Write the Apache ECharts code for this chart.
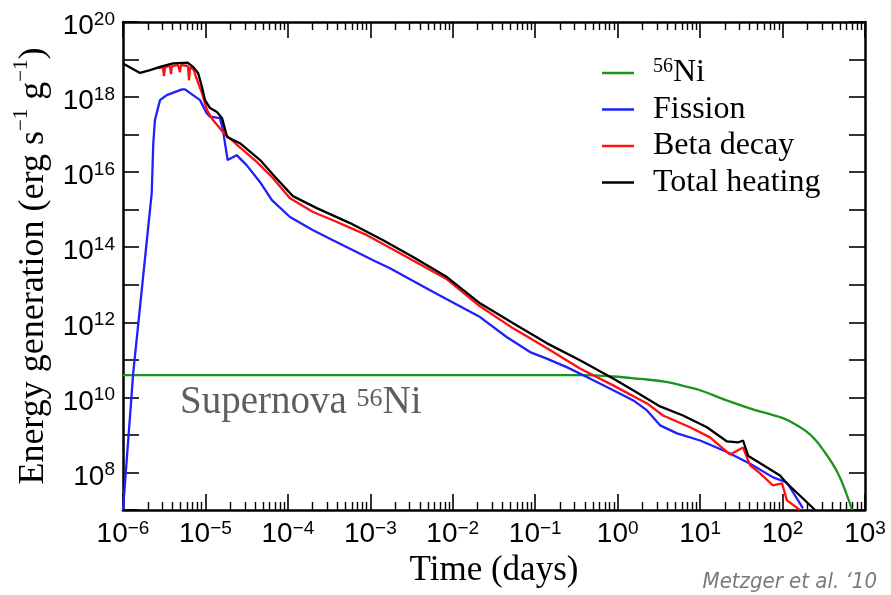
<!DOCTYPE html>
<html>
<head>
<meta charset="utf-8">
<script src="https://cdn.jsdelivr.net/npm/echarts@6/dist/echarts.min.js"></script>
<style>
html,body{margin:0;padding:0;background:#fff;}
#chart{width:891px;height:595px;}
</style>
</head>
<body>
<div id="chart"></div>
<script>
// ---- Data (time in days, energy in erg s^-1 g^-1) ----
const niTime   = [1e-6, 0.35, 0.9, 1.87, 4, 6.56, 10, 21, 40, 64.9, 93, 123, 215, 327, 471, 605, 697];
const niEnergy = [3.9e10, 3.9e10, 3.6e10, 3.1e10, 2.56e10, 1.96e10, 1.55e10, 8.3e9, 5.1e9, 3.74e9, 3.0e9, 2.3e9, 1.03e9, 3.4e8, 9.4e7, 2.44e7, 1e7];

const fissionTime   = [1e-6, 1.33e-6, 2.23e-6, 2.33e-6, 2.44e-6, 2.56e-6, 2.81e-6, 3.39e-6, 5.2e-6, 5.65e-6, 8.6e-6, 1.035e-5, 1.136e-5, 1.5e-5, 1.63e-5, 1.86e-5, 2.39e-5, 3.16e-5, 4.6e-5, 6.4e-5, 1.06e-4, 2.02e-4, 3.52e-4, 6.17e-4, 1.08e-3, 1.73e-3, 5.3e-3, 2.14e-2, 4.5e-2, 8.65e-2, 0.138, 0.241, 0.422, 0.885, 1.55, 2.27, 3.27, 5.25, 10, 21.2, 40.4, 76.7, 113, 177];
const fissionEnergy = [1e7, 4.4e10, 2.75e15, 5.9e16, 2.44e17, 3.7e17, 8.3e17, 1.13e18, 1.6e18, 1.6e18, 8.3e17, 3.7e17, 3.0e17, 2.75e17, 1.32e17, 2.1e16, 2.84e16, 1.54e16, 5.4e15, 1.8e15, 6.4e14, 2.84e14, 1.54e14, 8.3e13, 4.5e13, 2.75e13, 7.1e12, 1.38e12, 4.06e11, 1.61e11, 1.08e11, 6.4e10, 3.5e10, 1.54e10, 8.3e9, 4.5e9, 1.8e9, 1.1e9, 7.1e8, 3.5e8, 1.7e8, 7.4e7, 5.4e7, 1.1e7];

const betaTime   = [2.66e-6, 3.05e-6, 3.14e-6, 3.23e-6, 3.72e-6, 3.82e-6, 3.92e-6, 4.65e-6, 4.91e-6, 5.05e-6, 6.14e-6, 6.32e-6, 6.5e-6, 7.26e-6, 7.68e-6, 9.08e-6, 1.045e-5, 1.235e-5, 1.63e-5, 2.62e-5, 4.22e-5, 6.6e-5, 1.06e-4, 2.02e-4, 3.52e-4, 9.1e-4, 2.29e-3, 8.5e-3, 2.14e-2, 5.4e-2, 0.139, 0.349, 0.88, 2.27, 3.55, 7.55, 13.2, 23.1, 33.2, 40.4, 53.3, 76.7, 98.6, 113, 163];
const betaEnergy = [5.9e18, 6.3e18, 3.6e18, 6.3e18, 6.7e18, 4.1e18, 6.7e18, 7.1e18, 4.6e18, 7.1e18, 6.7e18, 2.8e18, 6.3e18, 5.2e18, 3.4e18, 1.28e18, 4.5e17, 2.44e17, 1.17e17, 4.6e16, 1.85e16, 6.9e15, 2.03e15, 8.7e14, 5.25e14, 2.1e14, 6.9e13, 1.4e13, 2.67e12, 6.9e11, 2.03e11, 5.9e10, 2.09e10, 6.9e9, 3.3e9, 1.6e9, 8.6e8, 3.0e8, 4.6e8, 1.54e8, 9.4e7, 4.5e7, 5.1e7, 1.8e7, 1e7];

const totalTime   = [1e-6, 1.61e-6, 2.13e-6, 2.81e-6, 4.04e-6, 6.14e-6, 7.06e-6, 8.13e-6, 9.08e-6, 9.88e-6, 1.136e-5, 1.38e-5, 1.59e-5, 1.83e-5, 2.62e-5, 4.6e-5, 7.0e-5, 1.15e-4, 2.24e-4, 5.67e-4, 1.43e-3, 3.3e-3, 8.5e-3, 2.14e-2, 5.4e-2, 0.139, 0.349, 0.88, 1.54, 3.27, 6.2, 12.1, 21.2, 28.8, 33.2, 38.1, 64.9, 93.1, 113, 163, 248];
const totalEnergy = [7.9e18, 4.4e18, 5.25e18, 6.4e18, 7.9e18, 8.2e18, 6.4e18, 4.4e18, 1.85e18, 8.3e17, 5.1e17, 4.0e17, 2.75e17, 8.6e16, 5.9e16, 2.1e16, 7.4e15, 2.3e15, 1.1e15, 4.4e14, 1.54e14, 5.5e13, 1.6e13, 3.2e12, 9.4e11, 2.75e11, 9.7e10, 3.2e10, 1.54e10, 5.75e9, 3.3e9, 1.6e9, 6.7e8, 6.3e8, 7.1e8, 2.8e8, 1.36e8, 8.3e7, 5.1e7, 2.4e7, 1e7];

// Tick labels (exponents of ten)
const xTickExponents = [-6, -5, -4, -3, -2, -1, 0, 1, 2, 3];
const yTickExponents = [8, 10, 12, 14, 16, 18, 20];
const seriesNames = ['56Ni', 'Fission', 'Beta decay', 'Total heating'];
const seriesColors = ['#1a941a', '#1f1fff', '#ff1010', '#000000'];
const seriesSmooth = [0.4, false, false, false];

// ---- build ----
function zip(a, b) { return a.map((v, i) => [v, b[i]]); }
function expText(v) { v = Math.round(v); return v < 0 ? '\u2212' + Math.abs(v) : String(v); }
const minorX = [];
for (let d = -6; d < 3; d++) for (let k = 2; k <= 9; k++) minorX.push(d + Math.log10(k));

const blk = '#000';
const axisLineStyle = { onZero: false, lineStyle: { color: blk, width: 2.5 } };
const majorTick = { inside: true, length: 16, lineStyle: { color: blk, width: 1.6 } };
const minorTickCfg = { inside: true, length: 8, customValues: minorX, lineStyle: { color: blk, width: 1.4 } };
const noSplit = { show: false };

const chart = echarts.init(document.getElementById('chart'), null, { renderer: 'canvas' });

const option = {
  animation: false,
  backgroundColor: '#fff',
  grid: { left: 123, right: 26, top: 22, bottom: 85, outerBoundsMode: 'none' },
  xAxis: [
    { type: 'log', logBase: 10, min: 1e-6, max: 1e3, show: false },
    { type: 'value', min: -6, max: 3, interval: 1, position: 'bottom',
      axisLine: axisLineStyle, axisTick: majorTick, splitLine: noSplit,
      axisLabel: { customValues: xTickExponents, margin: 9, showMinLabel: true, showMaxLabel: true,
        formatter: v => '{b|10}{s|' + expText(v) + '}',
        rich: {
          b: { fontFamily: 'Liberation Sans', fontSize: 28, lineHeight: 28, padding: [2, 0, 0, 0], color: blk },
          s: { fontFamily: 'Liberation Sans', fontSize: 19, lineHeight: 19, verticalAlign: 'top', color: blk }
        } },
      name: 'Time (days)', nameLocation: 'middle', nameGap: 39,
      nameTextStyle: { fontFamily: 'Liberation Serif', fontSize: 35, color: blk } },
    { type: 'value', min: -6, max: 3, position: 'bottom',
      axisLine: { show: false, onZero: false }, axisTick: minorTickCfg, axisLabel: { show: false }, splitLine: noSplit },
    { type: 'value', min: -6, max: 3, interval: 1, position: 'top',
      axisLine: axisLineStyle, axisTick: majorTick, axisLabel: { show: false }, splitLine: noSplit },
    { type: 'value', min: -6, max: 3, position: 'top',
      axisLine: { show: false, onZero: false }, axisTick: minorTickCfg, axisLabel: { show: false }, splitLine: noSplit }
  ],
  yAxis: [
    { type: 'log', logBase: 10, min: 1e7, max: 1e20, show: false },
    { type: 'value', min: 7, max: 20, interval: 1, position: 'left',
      axisLine: axisLineStyle, axisTick: majorTick, splitLine: noSplit,
      axisLabel: { customValues: yTickExponents, margin: 8, padding: [4, 0, 0, 0], showMinLabel: true, showMaxLabel: true,
        formatter: v => '{b|10}{s|' + expText(v) + '}',
        rich: {
          b: { fontFamily: 'Liberation Sans', fontSize: 28, lineHeight: 28, padding: [5, 0, 0, 0], color: blk },
          s: { fontFamily: 'Liberation Sans', fontSize: 19, lineHeight: 19, verticalAlign: 'top', color: blk }
        } },
      name: '{m|Energy generation (erg s}{p|\u22121}{m| g}{p|\u22121}{m|)}',
      nameLocation: 'middle', nameGap: 74, nameRotate: 90,
      nameTextStyle: { rich: {
        m: { fontFamily: 'Liberation Serif', fontSize: 36, lineHeight: 36, padding: [9, 0, 0, 0], color: blk },
        p: { fontFamily: 'Liberation Serif', fontSize: 21, lineHeight: 21, verticalAlign: 'top', color: blk }
      } } },
    { type: 'value', min: 7, max: 20, interval: 1, position: 'right',
      axisLine: axisLineStyle, axisTick: majorTick, axisLabel: { show: false }, splitLine: noSplit }
  ],
  legend: {
    orient: 'vertical', left: 602, top: 57, padding: 0, itemGap: 4.5,
    itemWidth: 32, itemHeight: 2.5, icon: 'rect',
    data: seriesNames,
    formatter: name => name === '56Ni' ? '{s|56}{n|Ni}' : '{n|' + name + '}',
    textStyle: { padding: [0, 0, 0, 14], rich: {
      n: { fontFamily: 'Liberation Serif', fontSize: 32, lineHeight: 32, color: blk },
      s: { fontFamily: 'Liberation Serif', fontSize: 20, lineHeight: 20, verticalAlign: 'top', color: blk }
    } }
  },
  series: [
    [niTime, niEnergy], [fissionTime, fissionEnergy], [betaTime, betaEnergy], [totalTime, totalEnergy]
  ].map((pair, i) => ({
    type: 'line', name: seriesNames[i], xAxisIndex: 0, yAxisIndex: 0,
    data: zip(pair[0], pair[1]), symbol: 'none', showSymbol: false,
    smooth: seriesSmooth[i],
    lineStyle: { color: seriesColors[i], width: 2.3 }, itemStyle: { color: seriesColors[i] },
    z: 2 + i
  })),
  graphic: [
    { type: 'text', x: 180, y: 383, silent: true,
      style: { text: '{a|Supernova }{b|56}{a|Ni}', verticalAlign: 'top',
        rich: {
          a: { fontFamily: 'Liberation Serif', fontSize: 39, lineHeight: 39, fill: '#5e5e5e', color: '#5e5e5e' },
          b: { fontFamily: 'Liberation Serif', fontSize: 26, lineHeight: 26, padding: [3, 0, 0, 0], verticalAlign: 'top', fill: '#5e5e5e', color: '#5e5e5e' }
        } } },
    { type: 'text', x: 877, y: 593, silent: true,
      style: { text: 'Metzger et al. \u201810', align: 'right', verticalAlign: 'bottom',
        font: 'italic 300 22px "Liberation Sans Narrow", "DejaVu Sans Condensed", "Roboto Condensed", "Open Sans", sans-serif',
        fill: '#7a7a7a' } }
  ]
};
chart.setOption(option);
</script>
</body>
</html>
